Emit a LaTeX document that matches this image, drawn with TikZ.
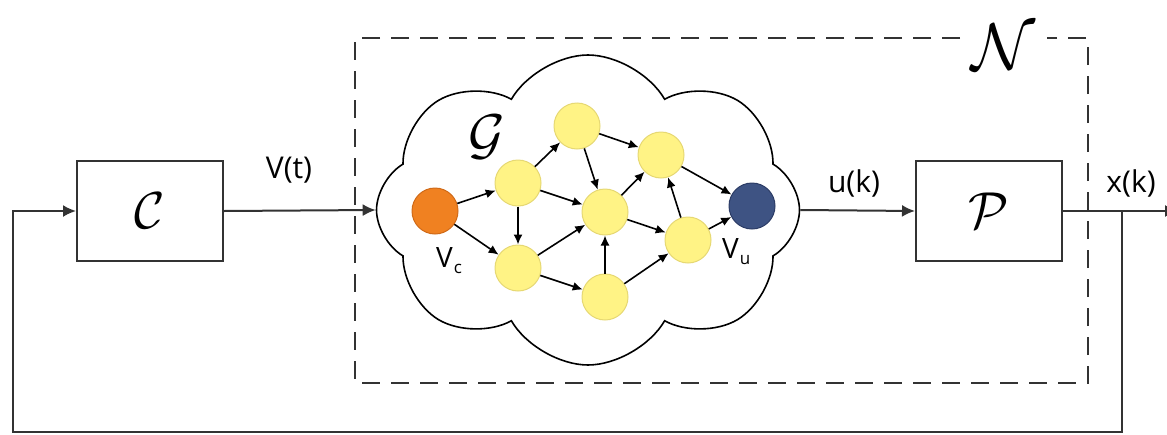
\RequirePackage{fix-cm}
\documentclass[tikz,border=0pt]{standalone}
\usepackage{fontspec}
\setsansfont{Open Sans}
\usetikzlibrary{arrows.meta,shapes.symbols}
\definecolor{wire}{HTML}{333333}
\definecolor{nodeyellow}{HTML}{FFF385}
\definecolor{nodeyellowedge}{HTML}{E6D873}
\definecolor{nodeorange}{HTML}{F08121}
\definecolor{nodeorangeedge}{HTML}{D06A18}
\definecolor{nodeblue}{HTML}{3E5383}
\definecolor{nodeblueedge}{HTML}{2C3C66}
\tikzset{
  wireline/.style={draw=wire, line width=2pt},
  wirearrow/.style={wireline, -{Latex[length=13pt,width=12pt]}},
  blockbox/.style={draw=wire, line width=2pt, minimum width=146pt, minimum height=100pt, inner sep=0pt},
  calfont/.style={font=\fontsize{52}{52}\selectfont},
  sig/.style={font=\sffamily\fontsize{30}{30}\selectfont, inner sep=0pt},
  vtx/.style={circle, minimum size=46pt, inner sep=0pt, line width=1pt, fill=nodeyellow, draw=nodeyellowedge},
  edge/.style={draw=black, line width=1.6pt, -{Latex[length=10pt,width=9pt]}},
  netbox/.style={draw=wire, line width=2pt, dash pattern=on 18pt off 11pt},
}
\begin{document}
\begin{tikzpicture}[x=1pt, y=-1pt]
\useasboundingbox (0,0) rectangle (1167,434);

% network boundary
\draw[netbox] (960,38) -- (355,38) -- (355,383) -- (1088,383) -- (1088,38) -- (1047,38);
\node[font=\fontsize{66}{66}\selectfont, inner sep=0pt, anchor=base] (N) at (1003,69) {$\mathcal{N}$};

% blocks
\node[blockbox] (C) at (150,211) {};
\node[calfont] (Clab) at (C.center) {$\mathcal{C}$};
\node[blockbox] (P) at (989,211) {};
\node[calfont] (Plab) at (P.center) {$\mathcal{P}$};

% cloud holding the graph
\node[cloud, draw=black, line width=1.6pt, cloud puffs=8, cloud puff arc=120,
      aspect=1.36, minimum width=423pt, minimum height=310pt, inner sep=0pt] (cloud) at (588,210) {};
\node[font=\fontsize{56}{56}\selectfont, inner sep=0pt] (G) at (487,137) {$\mathcal{G}$};

% graph vertices
\node[vtx, fill=nodeorange, draw=nodeorangeedge] (vc) at (435,211) {};
\node[vtx] (a) at (518,183) {};
\node[vtx] (b) at (518,268) {};
\node[vtx] (t) at (577,126) {};
\node[vtx] (m) at (605,212) {};
\node[vtx] (d) at (605,297) {};
\node[vtx] (r) at (661,155) {};
\node[vtx] (s) at (688,240) {};
\node[vtx, fill=nodeblue, draw=nodeblueedge] (vu) at (752,206) {};

\node[font=\sffamily\fontsize{28}{28}\selectfont, inner sep=0pt, anchor=base west] (lvc) at (436,267)
  {V\kern1pt\raisebox{-6pt}{\fontsize{17}{17}\selectfont c}};
\node[font=\sffamily\fontsize{28}{28}\selectfont, inner sep=0pt, anchor=base west] (lvu) at (722,258)
  {V\kern1pt\raisebox{-6pt}{\fontsize{17}{17}\selectfont u}};

% graph edges
\draw[edge] (vc) -- (a);
\draw[edge] (vc) -- (b);
\draw[edge] (a) -- (t);
\draw[edge] (a) -- (m);
\draw[edge] (a) -- (b);
\draw[edge] (t) -- (m);
\draw[edge] (t) -- (r);
\draw[edge] (b) -- (m);
\draw[edge] (b) -- (d);
\draw[edge] (d) -- (m);
\draw[edge] (d) -- (s);
\draw[edge] (m) -- (r);
\draw[edge] (m) -- (s);
\draw[edge] (s) -- (r);
\draw[edge] (r) -- (vu);
\draw[edge] (s) -- (vu);

% signal wiring
\coordinate (out) at (1178,211);
\coordinate (tap) at (1122,211);
\coordinate (fb) at (13,432);
\draw[wirearrow] (C.east) -- (cloud.west);
\draw[wirearrow] (cloud.east) -- (P.west);
\draw[wirearrow] (P.east) -- (out);
\draw[wirearrow] (tap) |- (fb) |- (C.west);

\node[sig] (vt) at (289,170) {V(t)};
\node[sig] (uk) at (854,183) {u(k)};
\node[sig] (xk) at (1131,183) {x(k)};
\end{tikzpicture}
\end{document}
